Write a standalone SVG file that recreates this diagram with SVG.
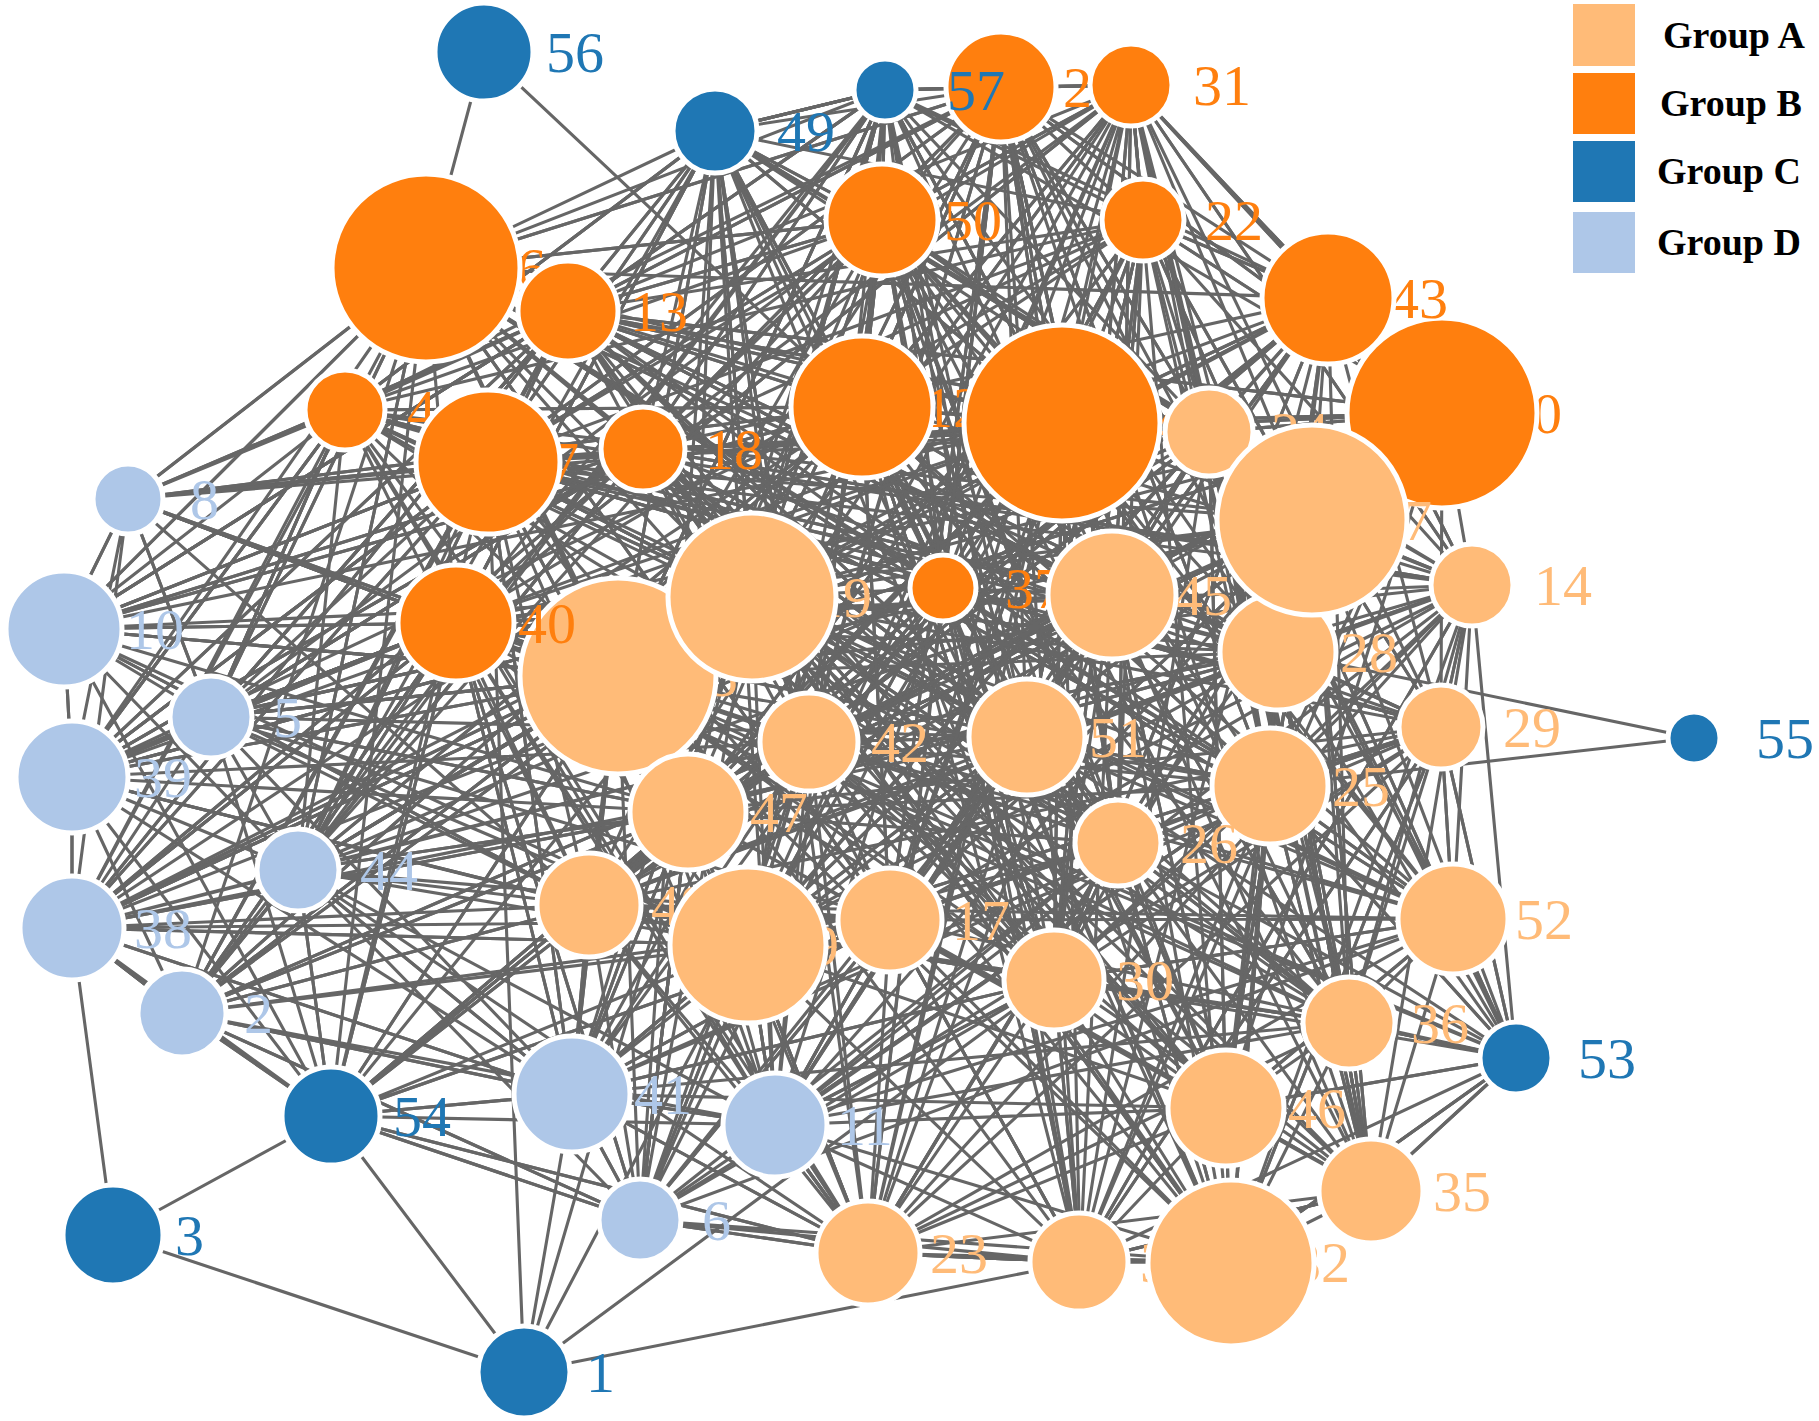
<svg xmlns="http://www.w3.org/2000/svg" width="1819" height="1421" viewBox="0 0 1819 1421">
<style>
.e path{fill:none;stroke:#666;stroke-width:3.1;stroke-linejoin:round}
.n circle{stroke:#fff;stroke-width:5}
.n text{font-family:"Liberation Serif","Times New Roman",serif;font-size:58px}
.A circle,.A text{fill:#ffbb78}
.B circle,.B text{fill:#ff7f0e}
.C circle,.C text{fill:#1f77b4}
.D circle,.D text{fill:#aec7e8}
.lg text{font-family:"Liberation Serif","Times New Roman",serif;font-weight:bold;font-size:38px;fill:#000}
</style>
<rect width="1819" height="1421" fill="#fff"/>
<g id="edges" class="e">
<path d="M426 268L1112 595L488 462L1027 737L568 311L1270 786L643 449L1230 1262L345 410L1278 652L456 623L1453 919L862 407L748 945L1062 423L688 812L1442 413L809 742L882 220L1118 843L1001 87L890 920L1143 220L1054 980L1131 85L1349 1023L1328 298L1226 1108L1209 432L1371 1191L1312 520L868 1253L1472 585L1080 1262L1441 727L589 905L943 588L775 1125L752 597L572 1094L618 676L640 1220L715 131L298 870L885 90L182 1013"/>
<path d="M128 499L1062 423L64 629L862 407L72 777L752 597L72 928L618 676L182 1013L643 449L211 717L568 311L298 870L426 268L331 1116L488 462L572 1094L456 623L640 1220L688 812L775 1125L748 945L868 1253L890 920L1080 1262L1054 980L1230 1262L1226 1108L1371 1191L1349 1023L1516 1058L1453 919L1441 727L1472 585L1442 413L1328 298L1143 220L1131 85L1001 87L885 90L715 131L882 220L862 407L1209 432L1312 520L1278 652L1270 786L1118 843L1027 737L1112 595L943 588L809 742L589 905"/>
<path d="M1442 413L1112 595L1328 298L1027 737L1143 220L1270 786L1131 85L1118 843L1001 87L1278 652L882 220L1312 520L715 131L1209 432L885 90L1062 423L862 407L943 588L752 597L809 742L618 676L688 812L456 623L589 905L345 410L748 945L488 462L890 920L426 268L1054 980L568 311L1226 1108L643 449L1230 1262L1472 585L1453 919L1441 727L1349 1023L1278 652L1371 1191L1080 1262L868 1253L775 1125L572 1094L331 1116L182 1013L72 928L72 777L64 629L128 499L211 717L298 870"/>
<path d="M568 311L1442 413L643 449L1472 585L488 462L1441 727L426 268L1453 919L345 410L1349 1023L456 623L1516 1058L618 676L1371 1191L752 597L1226 1108L862 407L1230 1262L882 220L1080 1262L1001 87L868 1253L715 131L775 1125L885 90L572 1094L1131 85L640 1220L1143 220L1054 980L1328 298L748 945L1209 432L890 920L1312 520L688 812L1278 652L809 742L1112 595L589 905L1062 423L1118 843L943 588L1270 786L1027 737"/>
<path d="M64 629L345 410L72 777L488 462L72 928L456 623L182 1013L568 311L128 499L426 268L211 717L643 449L298 870L752 597L331 1116L618 676L572 1094L688 812L640 1220L748 945L868 1253L1080 1262L1230 1262L1516 1058L1226 1108L1453 919L1371 1191L1349 1023L1054 980L1118 843L890 920L1027 737L809 742L943 588L862 407L882 220L1062 423L1001 87L1143 220L715 131L885 90L1131 85L1328 298L1442 413L1312 520L1209 432L1112 595L1278 652L1441 727L1472 585L1270 786"/>
<path d="M715 131L643 449L885 90L568 311L882 220L426 268L1001 87L345 410L1143 220L488 462L1131 85L456 623L1328 298L752 597L1442 413L618 676L1209 432L589 905L1312 520L688 812L1472 585L748 945L1441 727L890 920L1453 919L1054 980L1349 1023L868 1253L1371 1191L1080 1262L1516 1058L1230 1262L1118 843L1226 1108L1027 737L1270 786L775 1125L1112 595L809 742L1278 652L862 407L943 588L1062 423"/>
<path d="M128 499L488 462L64 629L643 449L72 777L568 311L72 928L426 268L298 870L862 407L182 1013L752 597L211 717L456 623L331 1116L589 905L572 1094L748 945L775 1125L890 920L640 1220L868 1253L1226 1108L1080 1262L1371 1191L1118 843L1349 1023L1054 980L1453 919L1270 786L1516 1058L1441 727L1312 520L1278 652L1472 585L1209 432L1442 413L1062 423L1328 298L1112 595L1143 220L943 588L1001 87L1027 737L882 220L809 742L715 131L688 812L885 90L618 676"/>
<path d="M426 268L456 623L715 131L345 410L568 311L488 462L643 449L752 597L618 676L688 812L589 905L748 945L809 742L1027 737L1112 595L1062 423L862 407L882 220L1001 87L885 90L1131 85L1143 220L1328 298L1442 413L1209 432L1312 520L1472 585L1278 652L1441 727L1270 786L1453 919L1349 1023L1516 1058L1371 1191L1226 1108L1230 1262L1080 1262L1054 980L1118 843L890 920L775 1125L868 1253L572 1094L640 1220L331 1116L298 870L182 1013L72 928"/>
<path d="M72 777L426 268L182 1013L488 462L64 629L568 311L211 717L345 410L298 870L643 449L72 928L862 407L128 499L456 623L211 717L618 676L331 1116L688 812L640 1220L809 742L572 1094L943 588L589 905L1027 737L775 1125L1112 595L748 945L1118 843L868 1253L1054 980L752 597L890 920L1080 1262L1441 727L1230 1262L1270 786L1371 1191L1278 652L1349 1023L1209 432L1453 919L1062 423L1472 585L1328 298L1312 520L1143 220L1442 413L1001 87L862 407L1131 85L882 220L885 90L715 131"/>
<path d="M1062 423L752 597L1312 520L618 676L1442 413L688 812L1328 298L589 905L1209 432L748 945L1112 595L456 623L1027 737L643 449L1270 786L862 407L1118 843L568 311L1278 652L488 462L1441 727L345 410L1472 585L426 268L1453 919L1143 220L1349 1023L882 220L1226 1108L1001 87L1371 1191L1131 85L1230 1262L715 131L1054 980L885 90L1080 1262L943 588L868 1253L809 742L775 1125"/>
<path d="M128 499L568 311L64 629L488 462L72 777L643 449L211 717L752 597L298 870L618 676L72 928L688 812L182 1013L809 742L331 1116L890 920L572 1094L1027 737L640 1220L1118 843L775 1125L1054 980L589 905L1112 595L298 870L456 623L72 777L345 410L211 717L426 268L64 629"/>
<path d="M1442 413L1278 652L1328 298L1441 727L1131 85L1472 585L1143 220L1453 919L1001 87L1270 786L882 220L1349 1023L1062 423L1516 1058L1209 432L1226 1108L1312 520L1371 1191L1112 595L1230 1262L943 588L1080 1262L862 407L1054 980L752 597L1118 843L643 449L1027 737L568 311L890 920L426 268L748 945L488 462L775 1125L345 410L868 1253L456 623L640 1220"/>
<path d="M1112 595L568 311L1230 1262L752 597L1328 298L688 812L1143 220L748 945L1442 413L456 623L1054 980L862 407L1349 1023L426 268L1270 786L1001 87L1226 1108L643 449L1371 1191L882 220L1453 919L488 462L1080 1262L1062 423L868 1253L1131 85L890 920L1312 520L809 742L715 131L1472 585L618 676L1118 843L345 410L1027 737L885 90L1278 652L589 905L1209 432L943 588L1441 727"/>
<path d="M1209 432L882 220L752 597L1278 652L568 311L1118 843L1442 413L748 945L1131 85L589 905L1328 298L809 742L1001 87L1112 595L426 268L688 812L1143 220L1027 737L862 407L890 920L1062 423L1054 980L1312 520L775 1125L1472 585L1080 1262L1270 786L572 1094L1441 727L640 1220L1453 919L1226 1108L1349 1023L1230 1262L1371 1191"/>
<path d="M488 462L882 220L345 410L862 407L426 268L1062 423L568 311L1001 87L643 449L1143 220L456 623L1131 85L752 597L885 90L618 676L715 131L943 588L426 268L1328 298L643 449L1442 413L568 311L1209 432L488 462L1312 520L345 410L1112 595L456 623L1027 737L752 597L1270 786L618 676L1278 652L688 812L1118 843L809 742L1054 980L589 905L890 920L572 1094L748 945L868 1253"/>
<path d="M809 742L1270 786L688 812L1441 727L748 945L1278 652L589 905L1472 585L890 920L1112 595L1054 980L943 588L1118 843L752 597L1349 1023L618 676L1226 1108L688 812L1371 1191L809 742L1230 1262L890 920L1080 1262L748 945L1226 1108L1118 843L868 1253L1027 737L775 1125L1270 786L640 1220L1054 980L572 1094L1349 1023L589 905L1453 919"/>
<path d="M128 499L618 676L64 629L643 449L72 777L752 597L72 928L568 311L182 1013L456 623L211 717L688 812L298 870L809 742L72 777L748 945L64 629L589 905L128 499L456 623L182 1013L618 676L211 717L1027 737L72 928L943 588L298 870L752 597"/>
<path d="M715 131L568 311L885 90L426 268L882 220L488 462L1001 87L862 407L715 131L1062 423L885 90L752 597L1131 85L1209 432L1001 87L1112 595L1143 220L1312 520L882 220L943 588L1131 85L1442 413L1143 220L1209 432L1328 298L1062 423L1442 413L1278 652L1328 298L1472 585L1312 520L1441 727L1442 413L1270 786L1209 432L1112 595L1328 298"/>
<path d="M456 623L809 742L643 449L1027 737L488 462L943 588L568 311L1112 595L345 410L752 597L426 268L618 676L862 407L688 812L1062 423L589 905L882 220L748 945L1001 87L890 920L1143 220L1118 843L1131 85L1054 980L1328 298L1080 1262L1442 413L1226 1108L1312 520L1349 1023L1472 585L1371 1191L1278 652L1230 1262L1441 727L868 1253L1453 919L775 1125L1270 786L1054 980"/>
<path d="M568 311L882 220L643 449L1001 87L426 268L862 407L345 410L715 131L488 462L1062 423L456 623L885 90L618 676L882 220L752 597L1001 87L643 449L1131 85L568 311L1143 220L862 407L943 588L882 220L456 623L715 131L752 597L568 311L1062 423L488 462L1001 87L618 676L862 407L426 268L643 449L1209 432L568 311L1112 595L488 462L752 597"/>
<path d="M298 870L572 1094L182 1013L589 905L331 1116L688 812L211 717L748 945L72 928L572 1094L72 777L589 905L64 629L688 812L298 870L640 1220L182 1013L775 1125L298 870L868 1253L331 1116L809 742L182 1013L890 920L211 717L572 1094L456 623L775 1125L618 676L589 905L488 462L572 1094L752 597L640 1220L688 812L868 1253L589 905L1054 980"/>
<path d="M943 588L1270 786L862 407L1278 652L752 597L1441 727L643 449L1472 585L456 623L1312 520L688 812L1442 413L809 742L1328 298L618 676L1209 432L748 945L1143 220L1027 737L882 220L1118 843L1062 423L1054 980L862 407L890 920L1209 432L1080 1262L1112 595L868 1253L1312 520L1226 1108L1278 652L1371 1191L1270 786L1230 1262L1118 843L1349 1023L1027 737L1453 919L809 742L1226 1108L890 920L1441 727L1054 980L1472 585"/>
<path d="M128 499L862 407L64 629L568 311L72 777L1062 423L72 928L643 449L211 717L882 220L298 870L862 407L182 1013L752 597L72 777L618 676L64 629L456 623L128 499L488 462L72 777L345 410L72 928L456 623L211 717L568 311L298 870L618 676"/>
<path d="M484 52L426 268M484 52L862 407M1694 738L1278 652M1694 738L1270 786M113 1235L331 1116M113 1235L72 928M113 1235L524 1372"/>
<path d="M524 1372L331 1116M524 1372L488 462M524 1372L572 1094M524 1372L688 812M524 1372L748 945M524 1372L1054 980M524 1372L1080 1262"/>
<path d="M331 1116L72 928M331 1116L182 1013M331 1116L72 777M331 1116L64 629M331 1116L298 870M331 1116L572 1094M331 1116L640 1220M331 1116L589 905M331 1116L775 1125M331 1116L868 1253M331 1116L748 945M331 1116L688 812M331 1116L211 717M331 1116L456 623M331 1116L890 920"/>
<path d="M1516 1058L1453 919M1516 1058L1349 1023M1516 1058L1226 1108M1516 1058L1371 1191M1516 1058L1230 1262M1516 1058L1441 727M1516 1058L1472 585M1516 1058L1270 786M1516 1058L1278 652M1516 1058L1054 980M1516 1058L1118 843M1516 1058L890 920M1516 1058L1027 737M1516 1058L1312 520"/>
<path d="M885 90L1001 87M885 90L715 131M885 90L882 220M885 90L862 407M885 90L643 449M885 90L568 311M885 90L1062 423M885 90L1143 220M885 90L752 597M885 90L1112 595M885 90L943 588M885 90L1131 85M885 90L1328 298M885 90L1442 413"/>
<path d="M715 131L426 268M715 131L568 311M715 131L488 462M715 131L456 623M715 131L752 597M715 131L618 676M715 131L882 220M715 131L862 407M715 131L1062 423M715 131L1001 87M715 131L1209 432M715 131L345 410"/>
<path d="M1131 85L1328 298M1131 85L1442 413M1131 85L1312 520M1131 85L1209 432M1131 85L1143 220M1131 85L882 220M1131 85L862 407M1131 85L1062 423M1131 85L1472 585M1131 85L1278 652"/>
<path d="M1001 87L862 407M1001 87L1062 423M1001 87L1209 432M1001 87L1328 298M1001 87L1442 413M1001 87L752 597M1001 87L943 588M1001 87L568 311M1001 87L643 449"/>
<path d="M128 499L426 268M128 499L345 410M128 499L64 629M128 499L72 777M128 499L72 928M128 499L211 717M128 499L456 623M128 499L643 449M128 499L618 676"/>
<path d="M64 629L72 777M64 629L211 717M64 629L426 268M64 629L456 623M64 629L298 870M64 629L618 676M64 629L752 597M64 629L568 311"/>
<path d="M72 777L72 928M72 777L211 717M72 777L298 870M72 777L488 462M72 777L618 676M72 777L456 623M72 777L688 812M72 777L589 905M72 777L182 1013"/>
<path d="M72 928L182 1013M72 928L298 870M72 928L211 717M72 928L456 623M72 928L618 676M72 928L688 812M72 928L589 905M72 928L748 945M72 928L488 462M72 928L809 742M72 928L572 1094M72 928L890 920"/>
<path d="M182 1013L298 870M182 1013L456 623M182 1013L618 676M182 1013L589 905M182 1013L572 1094M182 1013L748 945M182 1013L688 812M182 1013L640 1220"/>
<path d="M298 870L618 676M298 870L589 905M298 870L748 945M298 870L456 623M298 870L488 462M298 870L752 597M298 870L890 920M298 870L572 1094"/>
<path d="M211 717L456 623M211 717L488 462M211 717L618 676M211 717L345 410M211 717L589 905M211 717L752 597M211 717L568 311"/>
<path d="M572 1094L748 945M572 1094L589 905M572 1094L688 812M572 1094L640 1220M572 1094L868 1253M572 1094L775 1125M572 1094L1054 980M572 1094L1226 1108"/>
<path d="M775 1125L868 1253M775 1125L1080 1262M775 1125L1230 1262M775 1125L1054 980M775 1125L1226 1108M775 1125L1349 1023M775 1125L890 920M775 1125L748 945M775 1125L589 905"/>
<path d="M640 1220L868 1253M640 1220L1080 1262M640 1220L748 945M640 1220L589 905M640 1220L890 920M640 1220L1230 1262M868 1253L1080 1262M868 1253L1230 1262"/>
</g>
<g id="nodes">
<g id="n1" class="n C"><text x="586" y="1392">1</text><circle cx="524" cy="1372" r="46"/></g>
<g id="n2" class="n D"><text x="244" y="1033">2</text><circle cx="182" cy="1013" r="44"/></g>
<g id="n3" class="n C"><text x="175" y="1255">3</text><circle cx="113" cy="1235" r="50"/></g>
<g id="n4" class="n B"><text x="407" y="430">4</text><circle cx="345" cy="410" r="40"/></g>
<g id="n5" class="n D"><text x="273" y="737">5</text><circle cx="211" cy="717" r="41"/></g>
<g id="n6" class="n D"><text x="702" y="1240">6</text><circle cx="640" cy="1220" r="41"/></g>
<g id="n7" class="n B"><text x="550" y="482">7</text><circle cx="488" cy="462" r="72"/></g>
<g id="n8" class="n D"><text x="190" y="519">8</text><circle cx="128" cy="499" r="35"/></g>
<g id="n10" class="n D"><text x="126" y="649">10</text><circle cx="64" cy="629" r="58"/></g>
<g id="n11" class="n D"><text x="837" y="1145">11</text><circle cx="775" cy="1125" r="52"/></g>
<g id="n12" class="n B"><text x="924" y="427">12</text><circle cx="862" cy="407" r="71"/></g>
<g id="n14" class="n A"><text x="1534" y="605">14</text><circle cx="1472" cy="585" r="41"/></g>
<g id="n15" class="n A"><text x="680" y="696">15</text><circle cx="618" cy="676" r="98"/></g>
<g id="n16" class="n B"><text x="488" y="288">16</text><circle cx="426" cy="268" r="94"/></g>
<g id="n13" class="n B"><text x="630" y="331">13</text><circle cx="568" cy="311" r="50"/></g>
<g id="n17" class="n A"><text x="952" y="940">17</text><circle cx="890" cy="920" r="52"/></g>
<g id="n18" class="n B"><text x="705" y="469">18</text><circle cx="643" cy="449" r="42"/></g>
<g id="n19" class="n A"><text x="814" y="617">19</text><circle cx="752" cy="597" r="84"/></g>
<g id="n20" class="n B"><text x="1504" y="433">20</text><circle cx="1442" cy="413" r="95"/></g>
<g id="n21" class="n B"><text x="1063" y="107">21</text><circle cx="1001" cy="87" r="55"/></g>
<g id="n22" class="n B"><text x="1205" y="240">22</text><circle cx="1143" cy="220" r="41"/></g>
<g id="n23" class="n A"><text x="930" y="1273">23</text><circle cx="868" cy="1253" r="52"/></g>
<g id="n25" class="n A"><text x="1332" y="806">25</text><circle cx="1270" cy="786" r="58"/></g>
<g id="n26" class="n A"><text x="1180" y="863">26</text><circle cx="1118" cy="843" r="43"/></g>
<g id="n28" class="n A"><text x="1340" y="672">28</text><circle cx="1278" cy="652" r="58"/></g>
<g id="n29" class="n A"><text x="1503" y="747">29</text><circle cx="1441" cy="727" r="42"/></g>
<g id="n30" class="n A"><text x="1116" y="1000">30</text><circle cx="1054" cy="980" r="50"/></g>
<g id="n31" class="n B"><text x="1193" y="105">31</text><circle cx="1131" cy="85" r="41"/></g>
<g id="n33" class="n A"><text x="1140" y="1282">33</text><circle cx="1079" cy="1262" r="49"/></g>
<g id="n32" class="n A"><text x="1292" y="1282">32</text><circle cx="1231" cy="1263" r="83"/></g>
<g id="n34" class="n B"><text x="1124" y="443">34</text><circle cx="1062" cy="423" r="98"/></g>
<g id="n24" class="n A"><text x="1271" y="452">24</text><circle cx="1209" cy="432" r="44"/></g>
<g id="n27" class="n A"><text x="1374" y="540">27</text><circle cx="1312" cy="520" r="95"/></g>
<g id="n35" class="n A"><text x="1433" y="1211">35</text><circle cx="1371" cy="1191" r="52"/></g>
<g id="n36" class="n A"><text x="1411" y="1043">36</text><circle cx="1349" cy="1023" r="46"/></g>
<g id="n37" class="n B"><text x="1005" y="608">37</text><circle cx="943" cy="588" r="33"/></g>
<g id="n38" class="n D"><text x="134" y="948">38</text><circle cx="72" cy="928" r="52"/></g>
<g id="n39" class="n D"><text x="134" y="797">39</text><circle cx="72" cy="777" r="56"/></g>
<g id="n40" class="n B"><text x="518" y="643">40</text><circle cx="456" cy="623" r="58"/></g>
<g id="n41" class="n D"><text x="634" y="1114">41</text><circle cx="572" cy="1094" r="58"/></g>
<g id="n42" class="n A"><text x="871" y="762">42</text><circle cx="809" cy="742" r="49"/></g>
<g id="n43" class="n B"><text x="1390" y="318">43</text><circle cx="1328" cy="298" r="66"/></g>
<g id="n44" class="n D"><text x="360" y="890">44</text><circle cx="298" cy="870" r="41"/></g>
<g id="n45" class="n A"><text x="1174" y="615">45</text><circle cx="1112" cy="595" r="64"/></g>
<g id="n46" class="n A"><text x="1288" y="1128">46</text><circle cx="1226" cy="1108" r="58"/></g>
<g id="n47" class="n A"><text x="750" y="832">47</text><circle cx="688" cy="812" r="58"/></g>
<g id="n48" class="n A"><text x="651" y="925">48</text><circle cx="589" cy="905" r="52"/></g>
<g id="n9" class="n A"><text x="810" y="965">9</text><circle cx="748" cy="945" r="78"/></g>
<g id="n49" class="n C"><text x="777" y="151">49</text><circle cx="715" cy="131" r="42"/></g>
<g id="n50" class="n B"><text x="944" y="240">50</text><circle cx="882" cy="220" r="56"/></g>
<g id="n51" class="n A"><text x="1089" y="757">51</text><circle cx="1027" cy="737" r="58"/></g>
<g id="n52" class="n A"><text x="1515" y="939">52</text><circle cx="1453" cy="919" r="55"/></g>
<g id="n53" class="n C"><text x="1578" y="1078">53</text><circle cx="1516" cy="1058" r="36"/></g>
<g id="n54" class="n C"><text x="393" y="1136">54</text><circle cx="331" cy="1116" r="49"/></g>
<g id="n55" class="n C"><text x="1756" y="758">55</text><circle cx="1694" cy="738" r="26"/></g>
<g id="n56" class="n C"><text x="546" y="72">56</text><circle cx="484" cy="52" r="49"/></g>
<g id="n57" class="n C"><text x="947" y="110">57</text><circle cx="885" cy="90" r="31"/></g>
</g>
<g id="legend" class="lg">
<rect x="1573" y="4" width="62" height="62" fill="#ffbb78"/>
<rect x="1573" y="73" width="62" height="61" fill="#ff7f0e"/>
<rect x="1573" y="141" width="62" height="61" fill="#1f77b4"/>
<rect x="1573" y="212" width="62" height="61" fill="#aec7e8"/>
<text x="1663" y="48">Group A</text>
<text x="1660" y="116">Group B</text>
<text x="1657" y="184">Group C</text>
<text x="1657" y="255">Group D</text>
</g>
</svg>
